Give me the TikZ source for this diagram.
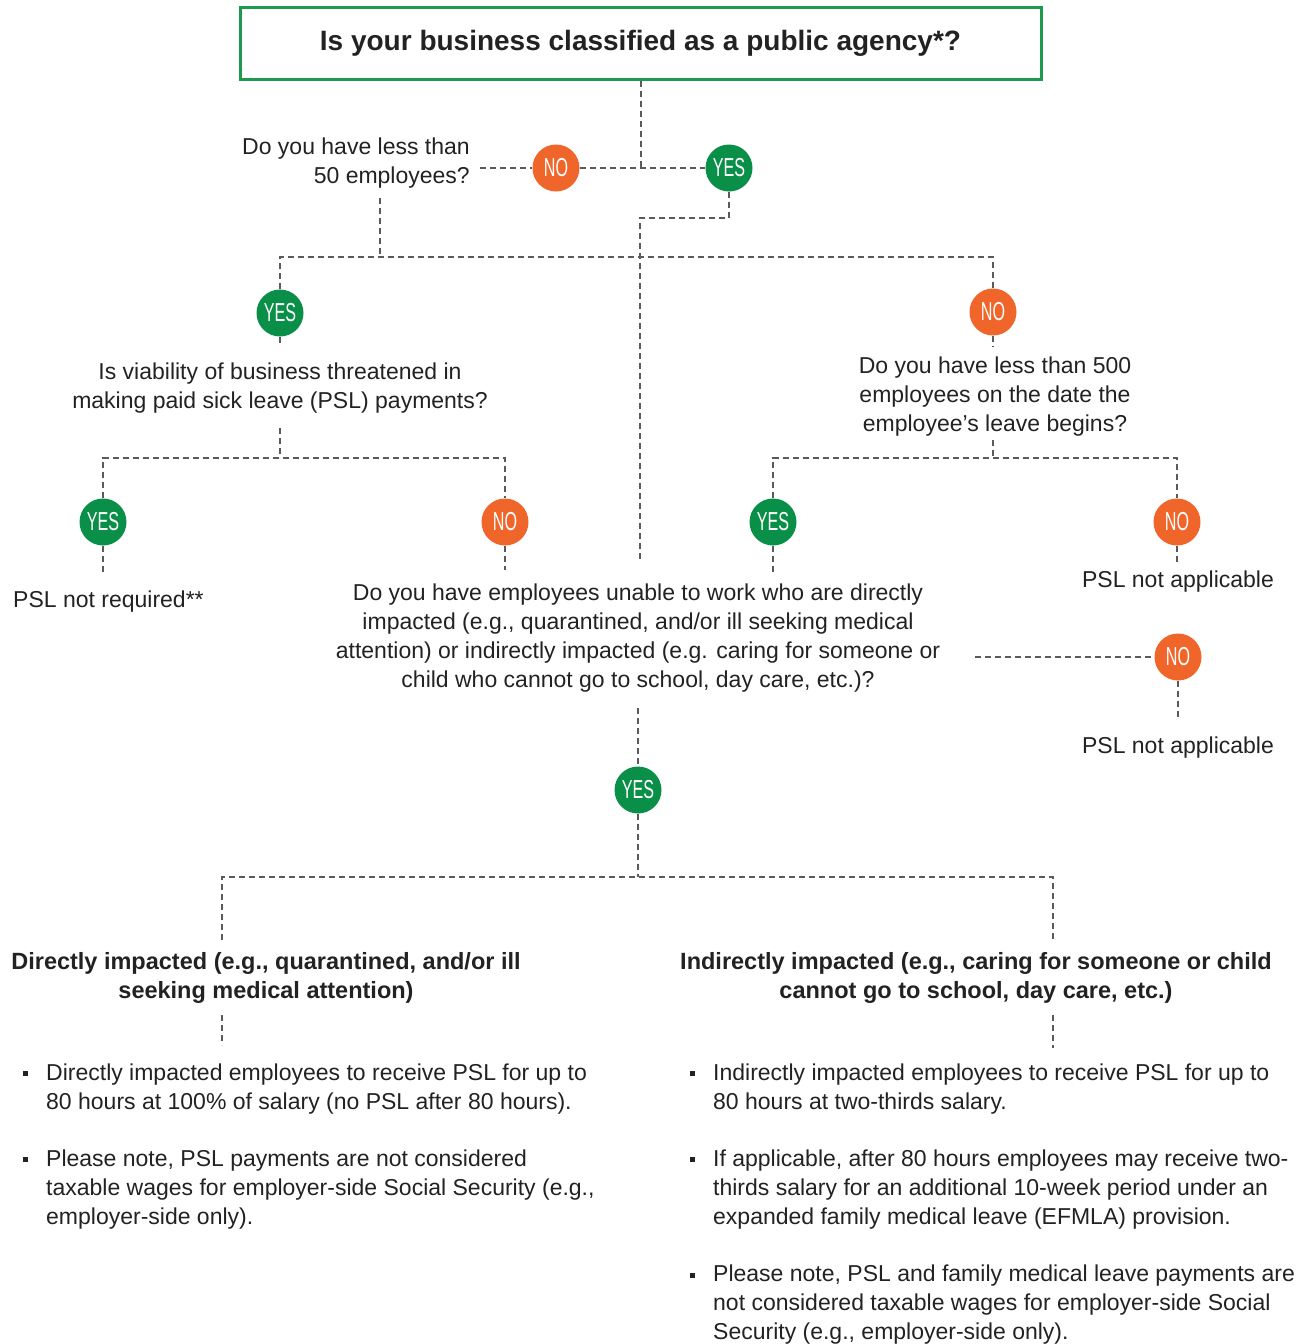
\documentclass[tikz,border=0pt]{standalone}
\usepackage{fontspec}
\setmainfont{Liberation Sans}
\newfontfamily\circfont[FakeStretch=0.62]{Liberation Sans}
\definecolor{yesgreen}{HTML}{0A8F48}
\definecolor{noorange}{HTML}{F0652A}
\definecolor{boxgreen}{HTML}{1E9A4E}
\definecolor{dashgray}{HTML}{5A5A5A}
\definecolor{txtgray}{HTML}{222222}
\tikzset{
  dl/.style={draw=dashgray, line width=2pt, dash pattern=on 6pt off 4pt},
  circbase/.style={circle, minimum size=47pt, inner sep=0pt, text=white, font=\circfont\fontsize{26}{26}\selectfont},
  yescirc/.style={circbase, fill=yesgreen},
  nocirc/.style={circbase, fill=noorange},
  txt/.style={inner sep=0pt, text=txtgray, font=\fontsize{23}{29}\selectfont},
  btxt/.style={inner sep=0pt, text=txtgray, font=\bfseries\fontsize{23.5}{29}\selectfont},
  titlebox/.style={draw=boxgreen, line width=3pt, fill=white, minimum width=801pt, minimum height=72pt, inner sep=0pt, text=txtgray, font=\bfseries\fontsize{28}{32}\selectfont},
}
\begin{document}
\begin{tikzpicture}[x=1pt,y=-1pt]
\useasboundingbox (0,0) rectangle (1301,1344);
% nodes
\node[titlebox] (title) at (640.5,43) {Is your business classified as a public agency*?};
\node[txt, align=right, anchor=east] (q50) at (470,163) {Do you have less than\\50 employees?};
\node[nocirc] (no1) at (556,168) {NO};
\node[yescirc] (yes1) at (729,168) {YES};
\node[yescirc] (yes2) at (280,313) {YES};
\node[nocirc] (no2) at (993,312) {NO};
\node[txt, align=center] (qviab) at (280,388) {Is viability of business threatened in\\making paid sick leave (PSL) payments?};
\node[txt, align=center] (q500) at (995,397) {Do you have less than 500\\employees on the date the\\employee’s leave begins?};
\node[yescirc] (yes3) at (103,522) {YES};
\node[nocirc] (no3) at (505,522) {NO};
\node[yescirc] (yes4) at (773,522) {YES};
\node[nocirc] (no4) at (1177,522) {NO};
\node[txt, anchor=west] (pslreq) at (13,602) {PSL not required**};
\node[txt] (pslna1) at (1178,582) {PSL not applicable};
\node[txt, align=center] (qbig) at (638,638) {Do you have employees unable to work who are directly\\impacted (e.g., quarantined, and/or ill seeking medical\\attention) or indirectly impacted (e.g. caring for someone or\\child who cannot go to school, day care, etc.)?};
\node[nocirc] (no5) at (1178,657) {NO};
\node[txt] (pslna2) at (1178,748) {PSL not applicable};
\node[yescirc] (yes5) at (638,790) {YES};
\node[btxt, align=center] (direct) at (266,978) {Directly impacted (e.g., quarantined, and/or ill\\seeking medical attention)};
\node[btxt, align=center] (indirect) at (976,978) {Indirectly impacted (e.g., caring for someone or child\\cannot go to school, day care, etc.)};
\node[txt, align=left, anchor=west] (l1) at (46,1089) {Directly impacted employees to receive PSL for up to\\80 hours at 100\% of salary (no PSL after 80 hours).};
\node[txt, align=left, anchor=west] (l2) at (46,1190) {Please note, PSL payments are not considered\\taxable wages for employer-side Social Security (e.g.,\\employer-side only).};
\node[txt, align=left, anchor=west] (r1) at (713,1089) {Indirectly impacted employees to receive PSL for up to\\80 hours at two-thirds salary.};
\node[txt, align=left, anchor=west] (r2) at (713,1190) {If applicable, after 80 hours employees may receive two-\\thirds salary for an additional 10-week period under an\\expanded family medical leave (EFMLA) provision.};
\node[txt, align=left, anchor=west] (r3) at (713,1305) {Please note, PSL and family medical leave payments are\\not considered taxable wages for employer-side Social\\Security (e.g., employer-side only).};
% bullets
\foreach \bx/\by in {25/1073, 25/1159, 692/1073, 692/1159, 692/1275}
  \fill[txtgray] (\bx-2.5,\by-2.5) rectangle (\bx+2.5,\by+2.5);
% coordinates
\coordinate (c1) at (480,168);
\coordinate (c2) at (380,198);
\coordinate (c3) at (380,257);
\coordinate (c4) at (640,218);
\coordinate (c5) at (640,562);
\coordinate (c6) at (280,346);
\coordinate (c7) at (280,428);
\coordinate (c8) at (280,458);
\coordinate (c9) at (103,572);
\coordinate (c10) at (505,570);
\coordinate (c11) at (993,346);
\coordinate (c12) at (993,440);
\coordinate (c13) at (993,458);
\coordinate (c14) at (773,572);
\coordinate (c15) at (1177,562);
\coordinate (c16) at (975,657);
\coordinate (c17) at (1178,717);
\coordinate (c18) at (638,708);
\coordinate (c19) at (638,877);
\coordinate (c20) at (222,940);
\coordinate (c21) at (1053,940);
\coordinate (c22) at (222,1015);
\coordinate (c23) at (222,1045);
\coordinate (c24) at (1053,1015);
\coordinate (c25) at (1053,1048);
% connectors
\draw[dl] (title.south) -- (title.south |- no1);
\draw[dl] (c1) -- (no1);
\draw[dl] (no1) -- (yes1);
\draw[dl] (c2) -- (c3);
\draw[dl] (yes2) -- (yes2 |- c3) -- (no2 |- c3) -- (no2);
\draw[dl] (yes1) |- (c4) -- (c5);
\draw[dl] (yes2) -- (c6);
\draw[dl] (no2) -- (c11);
\draw[dl] (c7) -- (c8);
\draw[dl] (yes3) -- (yes3 |- c8) -- (no3 |- c8) -- (no3);
\draw[dl] (yes3) -- (c9);
\draw[dl] (no3) -- (c10);
\draw[dl] (c12) -- (c13);
\draw[dl] (yes4) -- (yes4 |- c13) -- (no4 |- c13) -- (no4);
\draw[dl] (yes4) -- (c14);
\draw[dl] (no4) -- (c15);
\draw[dl] (c16) -- (no5);
\draw[dl] (no5) -- (c17);
\draw[dl] (c18) -- (yes5);
\draw[dl] (yes5) -- (c19);
\draw[dl] (c20) -- (c20 |- c19) -- (c21 |- c19) -- (c21);
\draw[dl] (c22) -- (c23);
\draw[dl] (c24) -- (c25);
\end{tikzpicture}
\end{document}
